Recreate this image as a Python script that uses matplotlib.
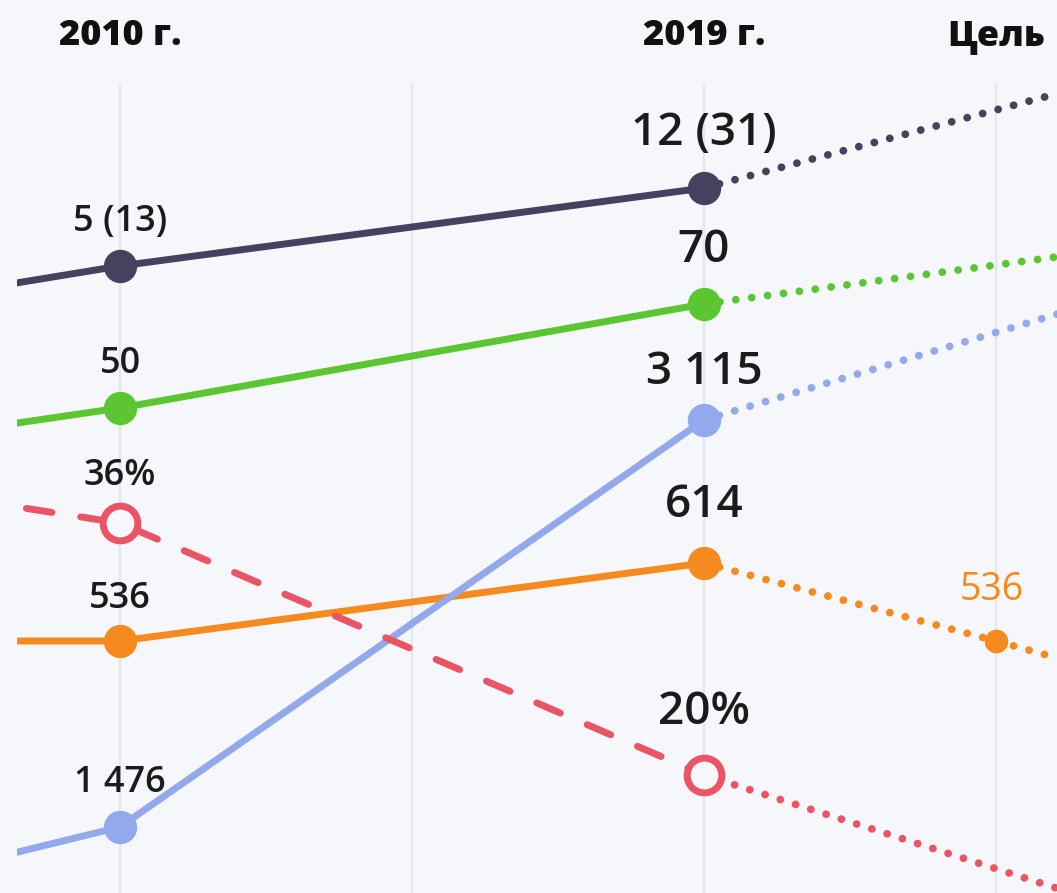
import matplotlib
matplotlib.use("Agg")
import matplotlib.pyplot as plt

# колонки: -1 - предыдущий период (за левым краем), 4 - следующий (за правым краем)
headers = ["2010 г.", "2019 г.", "Цель"]
header_x = [0, 2, 3]
grid_x = [0, 1, 2, 3]

x_fact = [-1, 0, 2]
x_plan = [2, 4]
x_plan_orange = [2, 3, 4]

dark_fact = [0.7, 5, 12]
dark_plan = [12, 26]
dark_labels = ["5 (13)", "12 (31)"]

green_fact = [41.8, 50, 70]
green_plan = [70, 85]
green_labels = ["50", "70"]

orange_fact = [536, 536, 614]
orange_plan = [614, 536, 455]
orange_labels = ["536", "614"]
orange_goal_label = "536"

blue_fact = [1188, 1476, 3115]
blue_plan = [3115, 3820]
blue_labels = ["1 476", "3 115"]

red_fact = [38.9, 36, 20]
red_plan = [20, 8.1]
red_labels = ["36%", "20%"]

# цвета
BG = "#f5f7fb"
GRID = "#e2e8ef"
TEXT = "#1b1b1d"
DARK = "#45425f"
GREEN = "#5cc632"
ORANGE = "#f58b1f"
BLUE = "#93a9ec"
RED = "#ea5566"

plt.rcParams["font.family"] = ["Open Sans", "DejaVu Sans"]

W, H = 1057, 893
fig = plt.figure(figsize=(W / 100, H / 100), dpi=100, facecolor=BG)

# базовые оси: сетка и заголовки
col = 292
ax0 = fig.add_axes([0, 0, 1, 1])
ax0.set_xlim(-120 / col, (W - 120) / col)
ax0.set_ylim(0, 1)
ax0.axis("off")
ax0.vlines(grid_x, 0, 1 - 83 / H, color=GRID, lw=1.6, zorder=0)
for x, h in zip(header_x, headers):
    ax0.text(x, 1 - 45 / H, h, ha="center", va="baseline", fontsize=26,
             fontweight="heavy", color="#111111")

# у каждого ряда своя шкала
series = [
    # fact, plan_x, plan, labels, color, ylim, (offset left, offset right) px
    (dark_fact, x_plan, dark_plan, dark_labels, DARK, (-51.27, 28.87), (35, 43)),
    (green_fact, x_plan, green_plan, green_labels, GREEN, (-43.27, 128.46), (35, 42)),
    (orange_fact, x_plan_orange, orange_plan, orange_labels, ORANGE, (284, 1177), (33, 46)),
    (blue_fact, x_plan, blue_plan, blue_labels, BLUE, (1210.2, 4806.4), (35, 36)),
    (red_fact, x_plan, red_plan, red_labels, RED, (12.51, 69.21), (38, 51)),
]

lw = 5
for fact, px, plan, labels, color, ylim, offs in series:
    ax = fig.add_axes([17 / W, 0, (W - 17) / W, 1])
    ax.set_xlim((17 - 120) / col, (W - 120) / col)
    ax.set_ylim(*ylim)
    ax.axis("off")
    ax.patch.set_visible(False)

    if color == RED:
        ax.plot(x_fact, fact, color=color, lw=lw, linestyle=(3.9, (3.7, 4.2)),
                dash_capstyle="round")
    else:
        ax.plot(x_fact, fact, color=color, lw=lw, solid_capstyle="round",
                solid_joinstyle="round")
    ax.plot(px, plan, color=color, lw=5.6, linestyle=(0, (0.01, 2.05)),
            dash_capstyle="round")

    if color == RED:
        ax.plot(x_fact[1:], fact[1:], "o", ms=25, mfc=BG, mec=color, mew=5)
    else:
        ax.plot(x_fact[1:], fact[1:], "o", ms=23, color=color)

    ax.annotate(labels[0], (x_fact[1], fact[1]), xytext=(0, offs[0] * 0.72),
                textcoords="offset points", ha="center", va="baseline",
                fontsize=26, fontweight="semibold", color=TEXT)
    ax.annotate(labels[1], (x_fact[2], fact[2]), xytext=(0, offs[1] * 0.72),
                textcoords="offset points", ha="center", va="baseline",
                fontsize=33, fontweight="semibold", color=TEXT)

    if color == ORANGE:
        ax.plot(px[1], plan[1], "o", ms=16, color=color)
        ax.annotate(orange_goal_label, (px[1], plan[1]), xytext=(-3, 41 * 0.72),
                    textcoords="offset points", ha="center", va="baseline",
                    fontsize=27, fontweight="medium", color=color)

fig.savefig("out.png", dpi=100, facecolor=BG)
